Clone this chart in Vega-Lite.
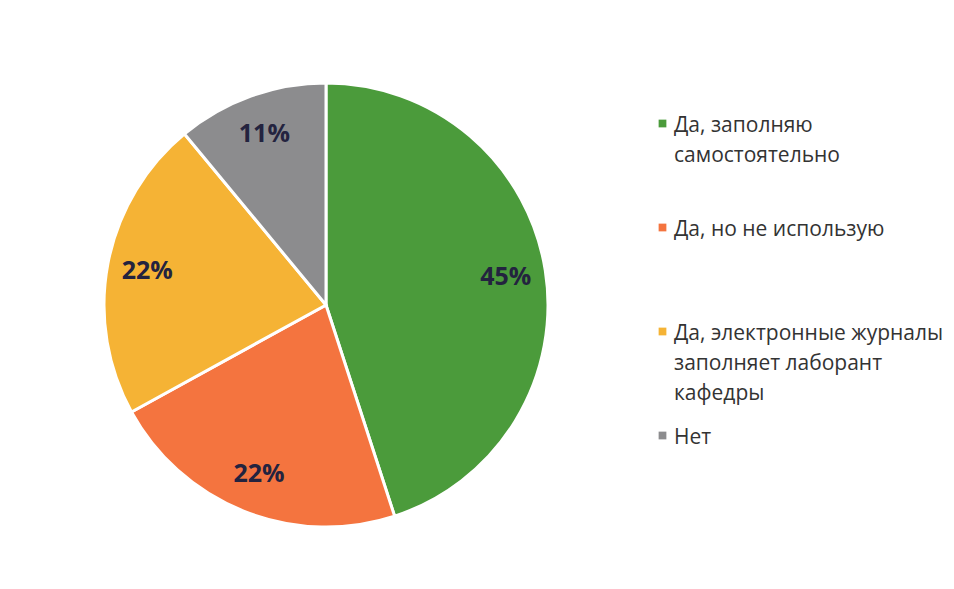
{
  "$schema": "https://vega.github.io/schema/vega-lite/v6.json",
  "width": 652,
  "height": 600,
  "padding": {"left": 0, "top": 5, "right": 0, "bottom": 0},
  "autosize": {"type": "pad"},
  "background": "white",
  "view": {"stroke": null},
  "config": {"style": {"guide-label": {"lineHeight": 30, "dy": -9}}},
  "data": {
    "values": [
      {"cat": "Да, заполняю самостоятельно", "pct": 45, "label": "45%", "ord": 1},
      {"cat": "Да, но не использую", "pct": 22, "label": "22%", "ord": 2},
      {"cat": "Да, электронные журналы заполняет лаборант кафедры", "pct": 22, "label": "22%", "ord": 3},
      {"cat": "Нет", "pct": 11, "label": "11%", "ord": 4}
    ]
  },
  "encoding": {
    "theta": {"field": "pct", "type": "quantitative", "stack": true},
    "order": {"field": "ord", "type": "quantitative"}
  },
  "layer": [
    {
      "mark": {"type": "arc", "outerRadius": 222, "stroke": "white", "strokeWidth": 3},
      "encoding": {
        "color": {
          "field": "cat",
          "type": "nominal",
          "sort": ["Да, заполняю самостоятельно", "Да, но не использую", "Да, электронные журналы заполняет лаборант кафедры", "Нет"],
          "scale": {
            "domain": ["Да, заполняю самостоятельно", "Да, но не использую", "Да, электронные журналы заполняет лаборант кафедры", "Нет"],
            "range": ["#4b9b3b", "#f4743f", "#f5b335", "#8c8c8e"]
          },
          "legend": {
            "title": null,
            "orient": "none",
            "legendX": 652,
            "legendY": 108,
            "padding": 0,
            "symbolType": "square",
            "symbolSize": 60,
            "symbolStrokeWidth": 0,
            "labelFont": "Open Sans",
            "labelFontSize": 21,
            "labelColor": "#333333",
            "labelLimit": 400,
            "labelOffset": 1,
            "labelBaseline": "top",
            "rowPadding": 21,
            "labelExpr": "datum.label == 'Да, заполняю самостоятельно' ? ['Да, заполняю', 'самостоятельно', ' '] : datum.label == 'Да, но не использую' ? ['Да, но не использую', ' ', ' '] : datum.label == 'Нет' ? ['Нет'] : ['Да, электронные журналы', 'заполняет лаборант', 'кафедры']"
          }
        }
      }
    },
    {
      "mark": {"type": "text", "radius": 182, "font": "Open Sans", "fontSize": 25, "fontWeight": "bold", "fill": "#23233f"},
      "encoding": {"text": {"field": "label"}}
    }
  ]
}
